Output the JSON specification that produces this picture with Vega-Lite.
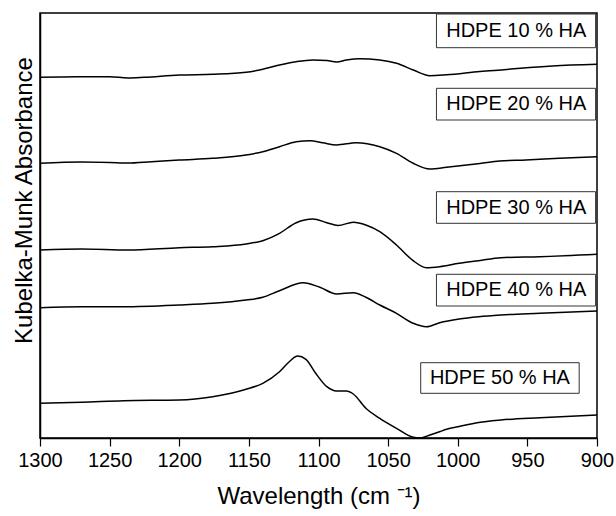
{
  "$schema": "https://vega.github.io/schema/vega-lite/v6.json",
  "width": 557,
  "height": 425,
  "autosize": {"type": "none"},
  "padding": {"left": 40, "top": 13, "right": 19, "bottom": 78},
  "background": "white",
  "config": {
    "font": "Liberation Sans",
    "view": {"stroke": "black", "strokeWidth": 1.5},
    "axis": {"domainColor": "black", "domainWidth": 1.5, "tickColor": "black", "tickWidth": 1.2, "grid": false, "labelColor": "black", "titleColor": "black", "titleFontWeight": "normal"}
  },
  "datasets": {
    "curves": [
      {"series": "HDPE 10 % HA", "wn": 1300, "a": 3.607}, {"series": "HDPE 10 % HA", "wn": 1273, "a": 3.613}, {"series": "HDPE 10 % HA", "wn": 1250, "a": 3.613}, {"series": "HDPE 10 % HA", "wn": 1237, "a": 3.6}, {"series": "HDPE 10 % HA", "wn": 1225, "a": 3.607}, {"series": "HDPE 10 % HA", "wn": 1200, "a": 3.63}, {"series": "HDPE 10 % HA", "wn": 1176, "a": 3.637}, {"series": "HDPE 10 % HA", "wn": 1152, "a": 3.657}, {"series": "HDPE 10 % HA", "wn": 1140, "a": 3.687}, {"series": "HDPE 10 % HA", "wn": 1128, "a": 3.73}, {"series": "HDPE 10 % HA", "wn": 1116, "a": 3.763}, {"series": "HDPE 10 % HA", "wn": 1104, "a": 3.78}, {"series": "HDPE 10 % HA", "wn": 1094, "a": 3.775}, {"series": "HDPE 10 % HA", "wn": 1087, "a": 3.76}, {"series": "HDPE 10 % HA", "wn": 1080, "a": 3.78}, {"series": "HDPE 10 % HA", "wn": 1070.5, "a": 3.793}, {"series": "HDPE 10 % HA", "wn": 1056, "a": 3.78}, {"series": "HDPE 10 % HA", "wn": 1044, "a": 3.747}, {"series": "HDPE 10 % HA", "wn": 1032, "a": 3.68}, {"series": "HDPE 10 % HA", "wn": 1020, "a": 3.623}, {"series": "HDPE 10 % HA", "wn": 1008, "a": 3.632}, {"series": "HDPE 10 % HA", "wn": 984, "a": 3.665}, {"series": "HDPE 10 % HA", "wn": 965, "a": 3.685}, {"series": "HDPE 10 % HA", "wn": 955, "a": 3.697}, {"series": "HDPE 10 % HA", "wn": 932, "a": 3.72}, {"series": "HDPE 10 % HA", "wn": 900, "a": 3.737},
      {"series": "HDPE 20 % HA", "wn": 1300, "a": 2.747}, {"series": "HDPE 20 % HA", "wn": 1270, "a": 2.76}, {"series": "HDPE 20 % HA", "wn": 1250, "a": 2.755}, {"series": "HDPE 20 % HA", "wn": 1237, "a": 2.749}, {"series": "HDPE 20 % HA", "wn": 1220, "a": 2.763}, {"series": "HDPE 20 % HA", "wn": 1200, "a": 2.78}, {"series": "HDPE 20 % HA", "wn": 1176, "a": 2.797}, {"series": "HDPE 20 % HA", "wn": 1152, "a": 2.83}, {"series": "HDPE 20 % HA", "wn": 1140, "a": 2.863}, {"series": "HDPE 20 % HA", "wn": 1128, "a": 2.913}, {"series": "HDPE 20 % HA", "wn": 1116, "a": 2.963}, {"series": "HDPE 20 % HA", "wn": 1106, "a": 2.973}, {"series": "HDPE 20 % HA", "wn": 1097, "a": 2.953}, {"series": "HDPE 20 % HA", "wn": 1087, "a": 2.93}, {"series": "HDPE 20 % HA", "wn": 1073, "a": 2.953}, {"series": "HDPE 20 % HA", "wn": 1056, "a": 2.913}, {"series": "HDPE 20 % HA", "wn": 1044, "a": 2.847}, {"series": "HDPE 20 % HA", "wn": 1032, "a": 2.747}, {"series": "HDPE 20 % HA", "wn": 1020, "a": 2.69}, {"series": "HDPE 20 % HA", "wn": 1008, "a": 2.707}, {"series": "HDPE 20 % HA", "wn": 984, "a": 2.745}, {"series": "HDPE 20 % HA", "wn": 970, "a": 2.77}, {"series": "HDPE 20 % HA", "wn": 951, "a": 2.78}, {"series": "HDPE 20 % HA", "wn": 927, "a": 2.797}, {"series": "HDPE 20 % HA", "wn": 900, "a": 2.813},
      {"series": "HDPE 30 % HA", "wn": 1300, "a": 1.88}, {"series": "HDPE 30 % HA", "wn": 1270, "a": 1.89}, {"series": "HDPE 30 % HA", "wn": 1237, "a": 1.88}, {"series": "HDPE 30 % HA", "wn": 1200, "a": 1.903}, {"series": "HDPE 30 % HA", "wn": 1176, "a": 1.913}, {"series": "HDPE 30 % HA", "wn": 1152, "a": 1.94}, {"series": "HDPE 30 % HA", "wn": 1140, "a": 1.973}, {"series": "HDPE 30 % HA", "wn": 1128, "a": 2.047}, {"series": "HDPE 30 % HA", "wn": 1116, "a": 2.153}, {"series": "HDPE 30 % HA", "wn": 1104, "a": 2.19}, {"series": "HDPE 30 % HA", "wn": 1094, "a": 2.153}, {"series": "HDPE 30 % HA", "wn": 1086, "a": 2.125}, {"series": "HDPE 30 % HA", "wn": 1075, "a": 2.157}, {"series": "HDPE 30 % HA", "wn": 1066, "a": 2.13}, {"series": "HDPE 30 % HA", "wn": 1056, "a": 2.063}, {"series": "HDPE 30 % HA", "wn": 1044, "a": 1.93}, {"series": "HDPE 30 % HA", "wn": 1032, "a": 1.773}, {"series": "HDPE 30 % HA", "wn": 1022.5, "a": 1.703}, {"series": "HDPE 30 % HA", "wn": 1013, "a": 1.713}, {"series": "HDPE 30 % HA", "wn": 999, "a": 1.747}, {"series": "HDPE 30 % HA", "wn": 985, "a": 1.773}, {"series": "HDPE 30 % HA", "wn": 969, "a": 1.803}, {"series": "HDPE 30 % HA", "wn": 941, "a": 1.813}, {"series": "HDPE 30 % HA", "wn": 900, "a": 1.837},
      {"series": "HDPE 40 % HA", "wn": 1300, "a": 1.303}, {"series": "HDPE 40 % HA", "wn": 1270, "a": 1.313}, {"series": "HDPE 40 % HA", "wn": 1240, "a": 1.313}, {"series": "HDPE 40 % HA", "wn": 1200, "a": 1.33}, {"series": "HDPE 40 % HA", "wn": 1176, "a": 1.347}, {"series": "HDPE 40 % HA", "wn": 1152, "a": 1.38}, {"series": "HDPE 40 % HA", "wn": 1140, "a": 1.407}, {"series": "HDPE 40 % HA", "wn": 1128, "a": 1.473}, {"series": "HDPE 40 % HA", "wn": 1111, "a": 1.553}, {"series": "HDPE 40 % HA", "wn": 1099, "a": 1.507}, {"series": "HDPE 40 % HA", "wn": 1087, "a": 1.44}, {"series": "HDPE 40 % HA", "wn": 1075, "a": 1.453}, {"series": "HDPE 40 % HA", "wn": 1066, "a": 1.407}, {"series": "HDPE 40 % HA", "wn": 1056, "a": 1.33}, {"series": "HDPE 40 % HA", "wn": 1044, "a": 1.247}, {"series": "HDPE 40 % HA", "wn": 1032, "a": 1.147}, {"series": "HDPE 40 % HA", "wn": 1022.5, "a": 1.113}, {"series": "HDPE 40 % HA", "wn": 1013, "a": 1.153}, {"series": "HDPE 40 % HA", "wn": 999, "a": 1.19}, {"series": "HDPE 40 % HA", "wn": 985, "a": 1.213}, {"series": "HDPE 40 % HA", "wn": 969, "a": 1.23}, {"series": "HDPE 40 % HA", "wn": 941, "a": 1.247}, {"series": "HDPE 40 % HA", "wn": 900, "a": 1.27},
      {"series": "HDPE 50 % HA", "wn": 1300, "a": 0.347}, {"series": "HDPE 50 % HA", "wn": 1270, "a": 0.357}, {"series": "HDPE 50 % HA", "wn": 1240, "a": 0.373}, {"series": "HDPE 50 % HA", "wn": 1200, "a": 0.38}, {"series": "HDPE 50 % HA", "wn": 1176, "a": 0.413}, {"series": "HDPE 50 % HA", "wn": 1152, "a": 0.487}, {"series": "HDPE 50 % HA", "wn": 1140, "a": 0.547}, {"series": "HDPE 50 % HA", "wn": 1128, "a": 0.663}, {"series": "HDPE 50 % HA", "wn": 1121, "a": 0.763}, {"series": "HDPE 50 % HA", "wn": 1115, "a": 0.82}, {"series": "HDPE 50 % HA", "wn": 1109, "a": 0.787}, {"series": "HDPE 50 % HA", "wn": 1102, "a": 0.647}, {"series": "HDPE 50 % HA", "wn": 1094, "a": 0.513}, {"series": "HDPE 50 % HA", "wn": 1087, "a": 0.47}, {"series": "HDPE 50 % HA", "wn": 1080, "a": 0.47}, {"series": "HDPE 50 % HA", "wn": 1075, "a": 0.44}, {"series": "HDPE 50 % HA", "wn": 1066, "a": 0.297}, {"series": "HDPE 50 % HA", "wn": 1056, "a": 0.197}, {"series": "HDPE 50 % HA", "wn": 1044, "a": 0.097}, {"series": "HDPE 50 % HA", "wn": 1032, "a": 0.007}, {"series": "HDPE 50 % HA", "wn": 1027, "a": 0.0}, {"series": "HDPE 50 % HA", "wn": 1020, "a": 0.03}, {"series": "HDPE 50 % HA", "wn": 1013, "a": 0.063}, {"series": "HDPE 50 % HA", "wn": 1008, "a": 0.087}, {"series": "HDPE 50 % HA", "wn": 999, "a": 0.115}, {"series": "HDPE 50 % HA", "wn": 985, "a": 0.155}, {"series": "HDPE 50 % HA", "wn": 969, "a": 0.18}, {"series": "HDPE 50 % HA", "wn": 941, "a": 0.203}, {"series": "HDPE 50 % HA", "wn": 900, "a": 0.23}
    ],
    "labels": [
      {"label": "HDPE 10 % HA", "x1": 1015.3, "x2": 901, "xc": 958, "y1": 4.24, "y2": 3.903, "yc": 4.07},
      {"label": "HDPE 20 % HA", "x1": 1015.3, "x2": 901, "xc": 958, "y1": 3.497, "y2": 3.18, "yc": 3.338},
      {"label": "HDPE 30 % HA", "x1": 1015.3, "x2": 901, "xc": 958, "y1": 2.463, "y2": 2.147, "yc": 2.305},
      {"label": "HDPE 40 % HA", "x1": 1015.3, "x2": 901, "xc": 958, "y1": 1.637, "y2": 1.32, "yc": 1.478},
      {"label": "HDPE 50 % HA", "x1": 1026.6, "x2": 912.8, "xc": 969.7, "y1": 0.753, "y2": 0.447, "yc": 0.6}
    ]
  },
  "layer": [
    {
      "data": {"name": "curves"},
      "mark": {"type": "line", "color": "black", "strokeWidth": 1.5, "interpolate": "monotone", "clip": true},
      "encoding": {
        "x": {"field": "wn", "type": "quantitative",
          "scale": {"domain": [900, 1300], "reverse": true, "nice": false, "zero": false},
          "axis": {"title": "Wavelength (cm ⁻¹)", "titleFontSize": 24, "titlePadding": 14, "format": "d",
            "values": [1300, 1275, 1250, 1225, 1200, 1175, 1150, 1125, 1100, 1075, 1050, 1025, 1000, 975, 950, 925, 900],
            "labelExpr": "datum.value % 50 === 0 ? datum.label : ''",
            "labelFontSize": 20, "labelPadding": 4, "labelFlush": false, "labelOverlap": false,
            "tickSize": {"condition": {"test": "datum.value % 50 === 0", "value": 8}, "value": 5}}},
        "y": {"field": "a", "type": "quantitative",
          "scale": {"domain": [0, 4.25], "nice": false, "zero": false},
          "axis": {"title": "Kubelka-Munk Absorbance", "titleFontSize": 24, "labels": false, "ticks": false, "titlePadding": 4, "titleY": 187}},
        "detail": {"field": "series"}
      }
    },
    {
      "data": {"name": "labels"},
      "mark": {"type": "rect", "fill": "white", "stroke": "#333333", "strokeWidth": 1},
      "encoding": {
        "x": {"field": "x1", "type": "quantitative"},
        "x2": {"field": "x2"},
        "y": {"field": "y1", "type": "quantitative"},
        "y2": {"field": "y2"}
      }
    },
    {
      "data": {"name": "labels"},
      "mark": {"type": "text", "fontSize": 20, "color": "black", "align": "center", "baseline": "middle"},
      "encoding": {
        "x": {"field": "xc", "type": "quantitative"},
        "y": {"field": "yc", "type": "quantitative"},
        "text": {"field": "label"}
      }
    }
  ]
}
